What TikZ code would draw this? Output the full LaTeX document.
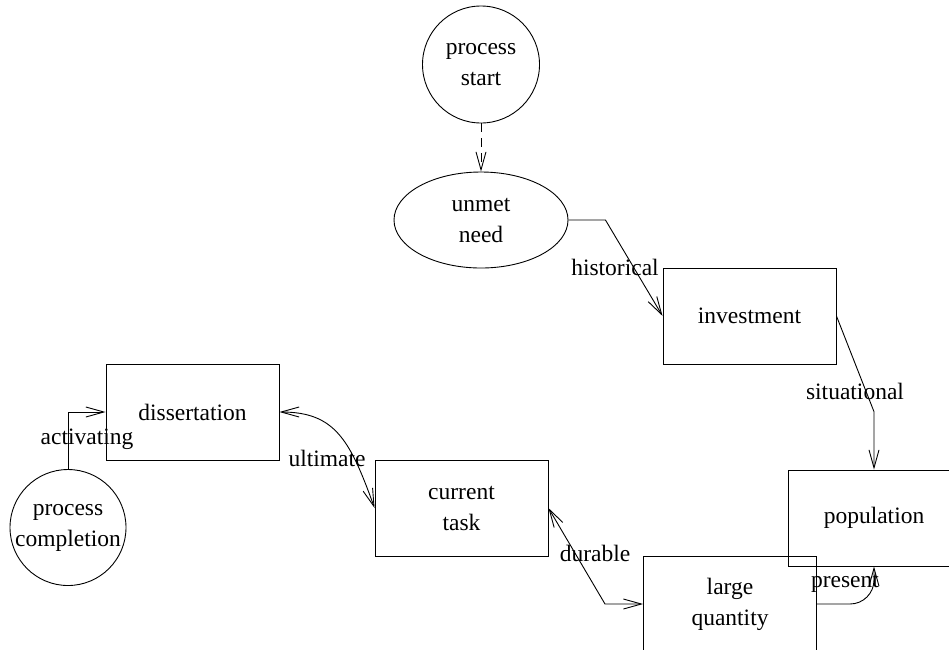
\documentclass[tikz,border=0pt]{standalone}
\usepackage{fontspec}
\setmainfont{Liberation Serif}
\usetikzlibrary{shapes.geometric,arrows.meta}
\begin{document}
\begin{tikzpicture}[x=1pt,y=1pt,
  every node/.style={font=\fontsize{23.5}{31}\selectfont, align=center, inner sep=0pt},
  boxnode/.style={draw, line width=0.9pt, rectangle, minimum width=173pt, minimum height=96pt},
  circnode/.style={draw, line width=0.9pt, circle, minimum size=117pt},
  ellnode/.style={draw, line width=0.9pt, ellipse, minimum width=174pt, minimum height=96pt},
  conn/.style={line width=0.9pt, -{Straight Barb[length=18pt,width=10pt]}},
  dconn/.style={line width=0.9pt, {Straight Barb[length=18pt,width=10pt]}-{Straight Barb[length=18pt,width=10pt]}},
  lbl/.style={inner sep=0pt}]
\useasboundingbox (0,0) rectangle (949,-649);
\node[circnode] (ps) at (481,-64.5) {process\\start};
\node[ellnode] (un) at (481,-220) {unmet\\need};
\node[boxnode] (inv) at (749.5,-316) {investment};
\node[boxnode, minimum width=172pt] (pop) at (874,-518) {population};
\node[boxnode] (lq) at (730,-604) {large\\quantity};
\node[boxnode] (ct) at (461.5,-508) {current\\task};
\node[boxnode] (dis) at (192.5,-412) {dissertation};
\node[circnode, minimum size=116pt] (pc) at (68,-527.5) {process\\completion};

\draw[conn, dash pattern=on 9pt off 6pt] (ps.south) -- (un.north);
\draw[conn] (un.east) -- ++(37,0) -- (inv.west)
  node[lbl] (lhist) at (615,-267) {historical};
\draw[conn] (inv.east) -- (874,-411.7) -- (pop.north)
  node[lbl] (lsit) at (855,-391) {situational};
\draw[conn, rounded corners=24pt] (lq.east) -| (pop.south)
  node[lbl] (lpres) at (845,-583) {present};
\draw[dconn] (ct.east) -- (605,-604) -- (lq.west)
  node[lbl] (ldur) at (595,-553) {durable};
\draw[dconn] (dis.east) .. controls (335,-412) and (350,-440) .. (ct.west)
  node[lbl] (lult) at (327,-458) {ultimate};
\draw[conn] (pc.north) |- (dis.west)
  node[lbl] (lact) at (87,-439) {activating};
\end{tikzpicture}
\end{document}
